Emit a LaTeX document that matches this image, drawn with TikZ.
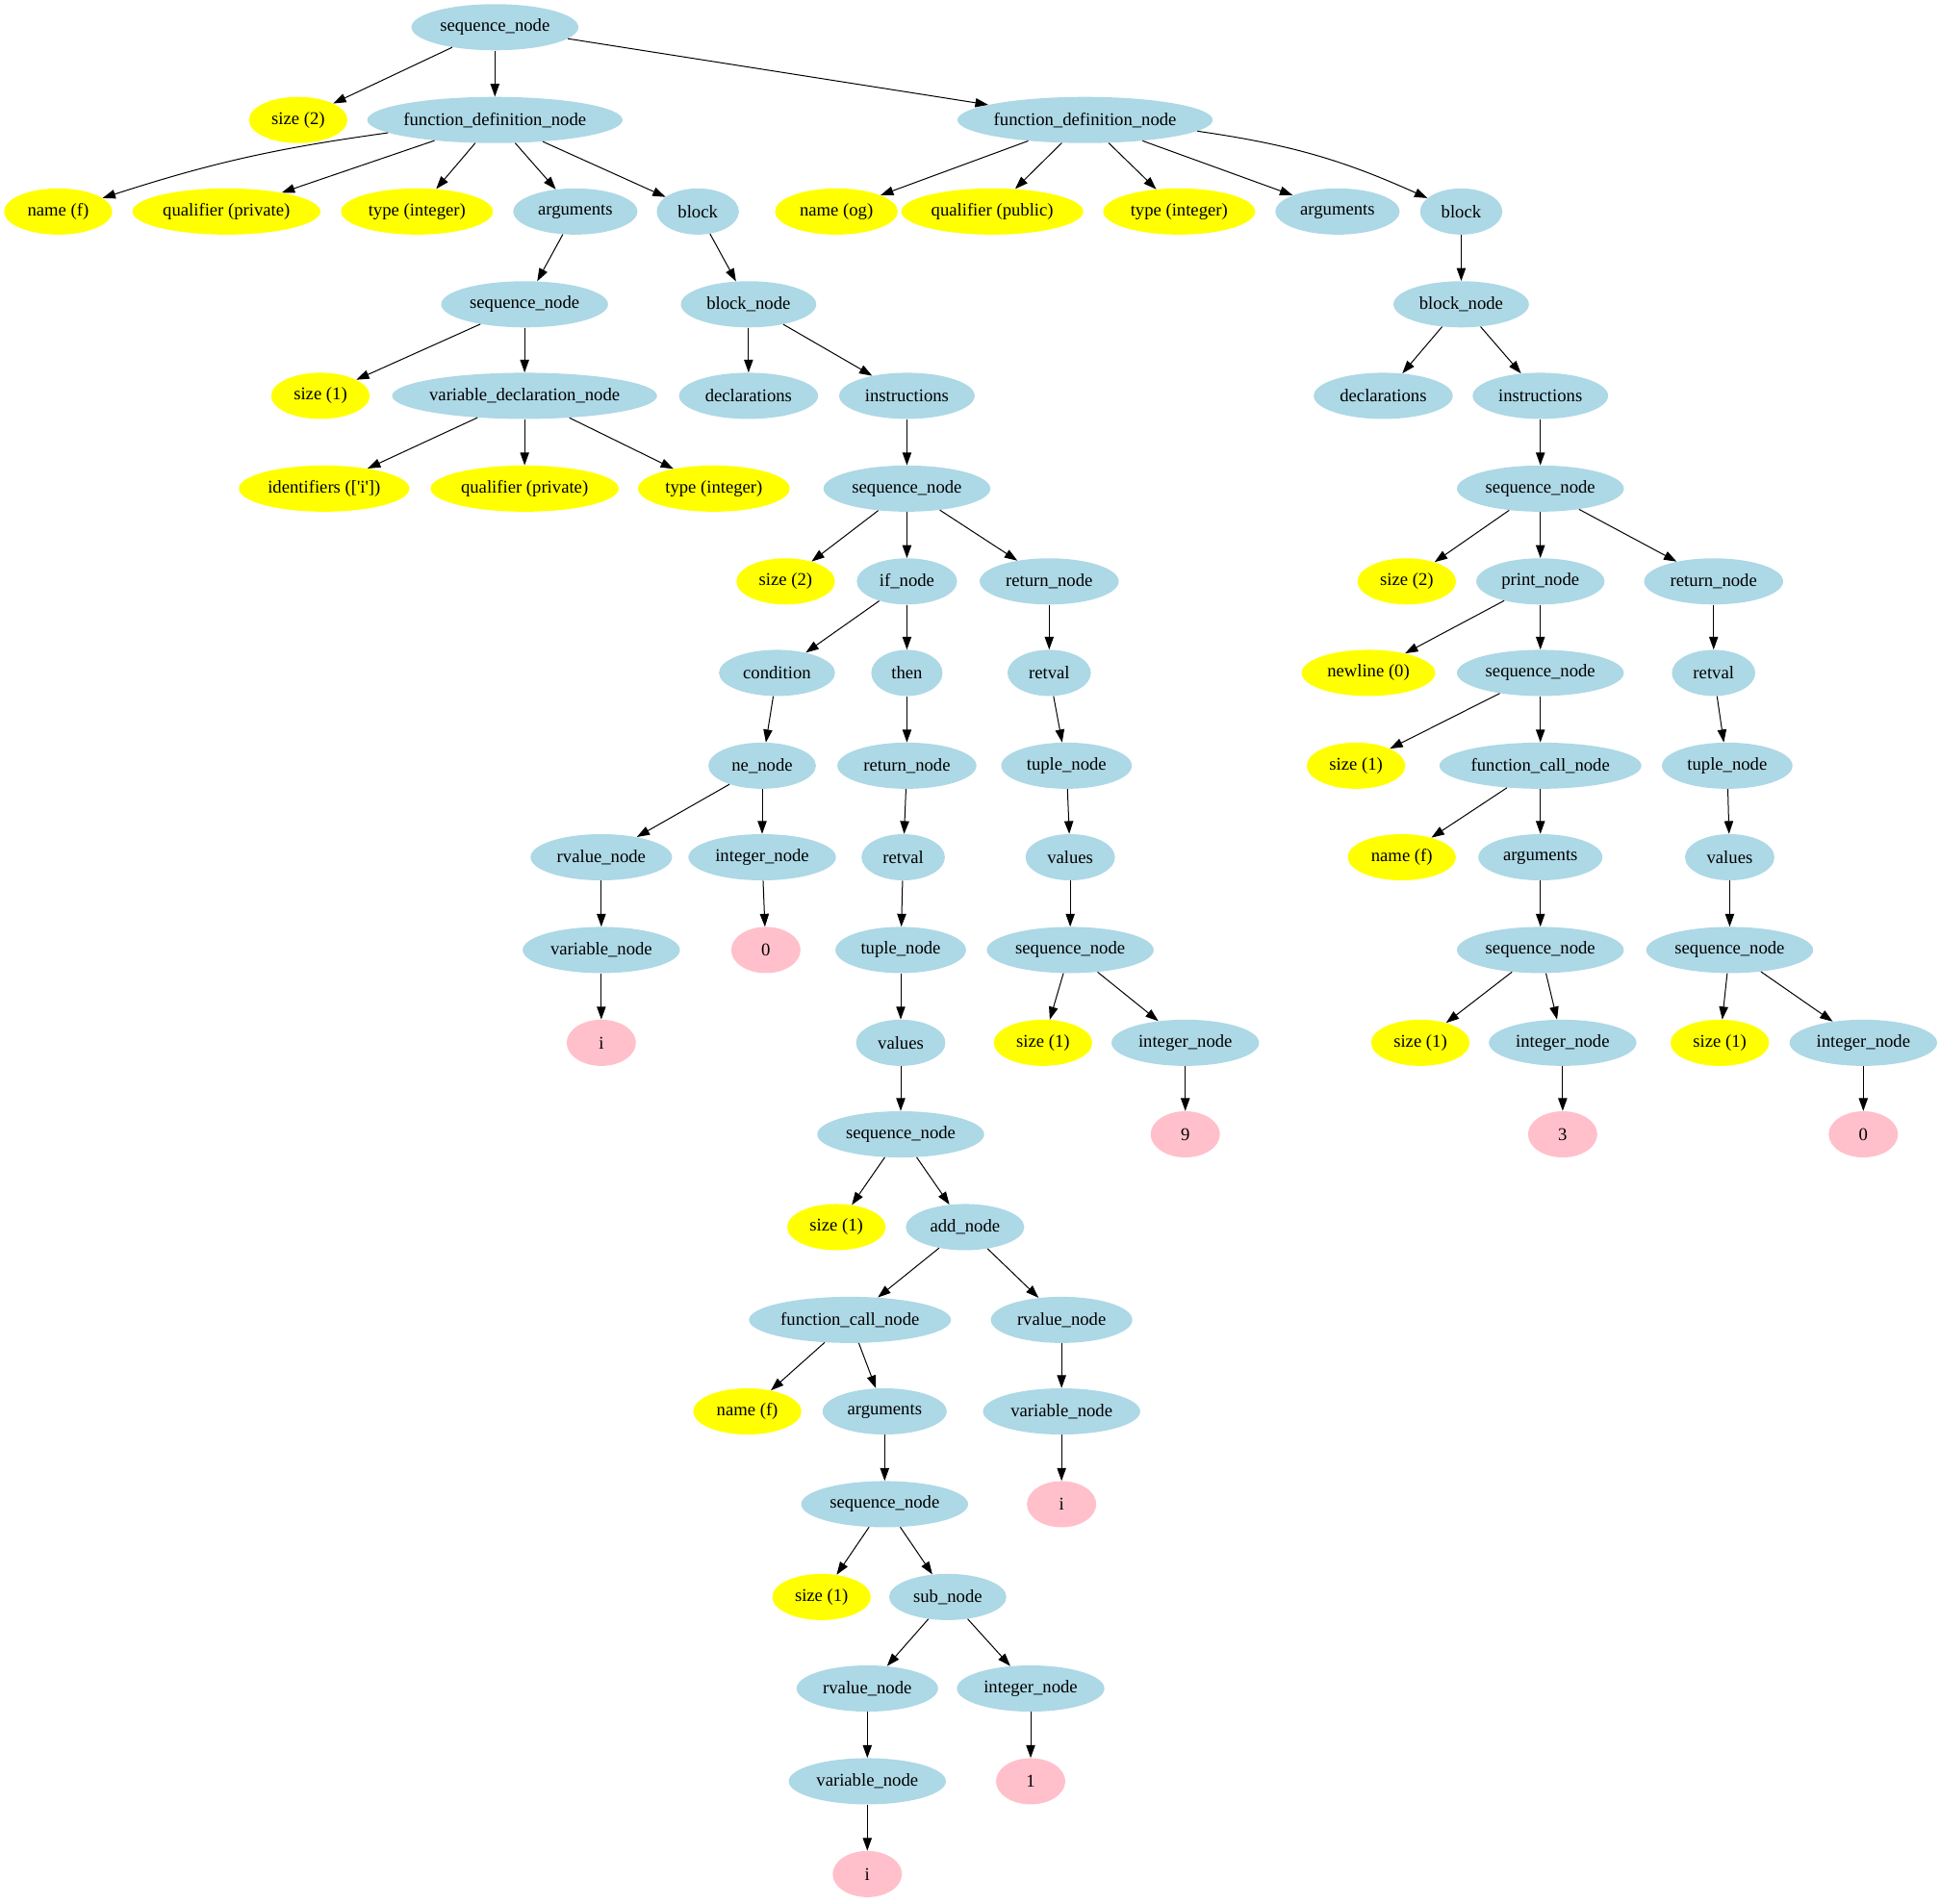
\documentclass[tikz,border=0pt]{standalone}
\usepackage{fontspec}
\setmainfont{Liberation Serif}[Ligatures=TeXOff]
\usetikzlibrary{shapes.geometric,arrows.meta}
\definecolor{gvblue}{HTML}{ADD8E6}
\definecolor{gvyellow}{HTML}{FFFF00}
\definecolor{gvpink}{HTML}{FFC0CB}
% label box narrower than its text, so the ellipse grows more slowly with the text
\newcommand\tx[1]{\makebox[0.858\width][c]{#1}}
\begin{document}
\begin{tikzpicture}[x=0.9643pt,y=-0.9643pt,
  tnode/.style={ellipse,minimum height=36pt,minimum width=54pt,inner xsep=9.3pt,inner ysep=0pt,font=\fontsize{14}{16}\selectfont},
  ast/.style={tnode,fill=gvblue},
  attr/.style={tnode,fill=gvyellow},
  leaf/.style={tnode,fill=gvpink},
  link/.style={-{Triangle[length=10pt,width=7pt]},line width=0.75pt}]
\useasboundingbox (0,0) rectangle (1568,1539);

% row 0-1
\node[ast]  (n0)   at (400,22) {\tx{sequence\_node}};
\node[attr] (s2a)  at (241,97) {\tx{size (2)}};
\node[ast]  (f1)   at (400,97) {\tx{function\_definition\_node}};
\node[ast]  (f2)   at (877,97) {\tx{function\_definition\_node}};
% row 2
\node[attr] (f1name)  at (47,171)  {\tx{name (f)}};
\node[attr] (f1qual)  at (183,171) {\tx{qualifier (private)}};
\node[attr] (f1type)  at (337,171) {\tx{type (integer)}};
\node[ast]  (f1args)  at (465,171) {\tx{arguments}};
\node[ast]  (f1block) at (564,171) {\tx{block}};
\node[attr] (f2name)  at (676,171) {\tx{name (og)}};
\node[attr] (f2qual)  at (802,171) {\tx{qualifier (public)}};
\node[attr] (f2type)  at (953,171) {\tx{type (integer)}};
\node[ast]  (f2args)  at (1081,171) {\tx{arguments}};
\node[ast]  (f2block) at (1181,171) {\tx{block}};
% row 3
\node[ast] (a1seq) at (424,246) {\tx{sequence\_node}};
\node[ast] (b1)    at (605,246) {\tx{block\_node}};
\node[ast] (b2)    at (1181,246) {\tx{block\_node}};
% row 4
\node[attr] (a1size) at (259,320) {\tx{size (1)}};
\node[ast]  (vdecl)  at (424,320) {\tx{variable\_declaration\_node}};
\node[ast]  (b1decl) at (605,320) {\tx{declarations}};
\node[ast]  (b1inst) at (733,320) {\tx{instructions}};
\node[ast]  (b2decl) at (1118,320) {\tx{declarations}};
\node[ast]  (b2inst) at (1245,320) {\tx{instructions}};
% row 5
\node[attr] (vid)   at (262,395) {\tx{identifiers (['i'])}};
\node[attr] (vqual) at (424,395) {\tx{qualifier (private)}};
\node[attr] (vtype) at (577,395) {\tx{type (integer)}};
\node[ast]  (i1seq) at (733,395) {\tx{sequence\_node}};
\node[ast]  (i2seq) at (1245,395) {\tx{sequence\_node}};
% row 6
\node[attr] (i1size) at (635,470) {\tx{size (2)}};
\node[ast]  (ifn)    at (733,470) {\tx{if\_node}};
\node[ast]  (ret1)   at (848,470) {\tx{return\_node}};
\node[attr] (i2size) at (1137,470) {\tx{size (2)}};
\node[ast]  (prn)    at (1245,470) {\tx{print\_node}};
\node[ast]  (ret2)   at (1385,470) {\tx{return\_node}};
% row 7
\node[ast]  (cond)    at (628,544) {\tx{condition}};
\node[ast]  (thn)     at (733,544) {\tx{then}};
\node[ast]  (ret1val) at (848,544) {\tx{retval}};
\node[attr] (nl)      at (1106,544) {\tx{newline (0)}};
\node[ast]  (prseq)   at (1245,544) {\tx{sequence\_node}};
\node[ast]  (ret2val) at (1385,544) {\tx{retval}};
% row 8
\node[ast]  (ne)      at (616,619) {\tx{ne\_node}};
\node[ast]  (thret)   at (733,619) {\tx{return\_node}};
\node[ast]  (ret1tup) at (862,619) {\tx{tuple\_node}};
\node[attr] (prsize)  at (1096,619) {\tx{size (1)}};
\node[ast]  (prcall)  at (1245,619) {\tx{function\_call\_node}};
\node[ast]  (ret2tup) at (1396,619) {\tx{tuple\_node}};
% row 9
\node[ast]  (nerv)     at (486,693) {\tx{rvalue\_node}};
\node[ast]  (neint)    at (616,693) {\tx{integer\_node}};
\node[ast]  (thval)    at (730,693) {\tx{retval}};
\node[ast]  (ret1vals) at (865,693) {\tx{values}};
\node[attr] (prcname)  at (1133,693) {\tx{name (f)}};
\node[ast]  (prcargs)  at (1245,693) {\tx{arguments}};
\node[ast]  (ret2vals) at (1398,693) {\tx{values}};
% row 10
\node[ast]  (nevar)   at (486,768) {\tx{variable\_node}};
\node[leaf] (nezero)  at (619,768) {\tx{0}};
\node[ast]  (thtup)   at (728,768) {\tx{tuple\_node}};
\node[ast]  (ret1seq) at (865,768) {\tx{sequence\_node}};
\node[ast]  (prcseq)  at (1245,768) {\tx{sequence\_node}};
\node[ast]  (ret2seq) at (1398,768) {\tx{sequence\_node}};
% row 11
\node[leaf] (nei)      at (486,843) {\tx{i}};
\node[ast]  (thvals)   at (728,843) {\tx{values}};
\node[attr] (ret1size) at (843,843) {\tx{size (1)}};
\node[ast]  (ret1int)  at (958,843) {\tx{integer\_node}};
\node[attr] (prcsize)  at (1148,843) {\tx{size (1)}};
\node[ast]  (prcint)   at (1263,843) {\tx{integer\_node}};
\node[attr] (ret2size) at (1390,843) {\tx{size (1)}};
\node[ast]  (ret2int)  at (1506,843) {\tx{integer\_node}};
% row 12
\node[ast]  (thseq) at (728,917) {\tx{sequence\_node}};
\node[leaf] (nine)  at (958,917) {\tx{9}};
\node[leaf] (three) at (1263,917) {\tx{3}};
\node[leaf] (zero2) at (1506,917) {\tx{0}};
% rows 13-20
\node[attr] (thsize) at (676,992) {\tx{size (1)}};
\node[ast]  (add)    at (780,992) {\tx{add\_node}};
\node[ast]  (fcall)  at (687,1067) {\tx{function\_call\_node}};
\node[ast]  (addrv)  at (858,1067) {\tx{rvalue\_node}};
\node[attr] (fname)  at (604,1141) {\tx{name (f)}};
\node[ast]  (fargs)  at (715,1141) {\tx{arguments}};
\node[ast]  (addvar) at (858,1141) {\tx{variable\_node}};
\node[ast]  (fseq)   at (715,1216) {\tx{sequence\_node}};
\node[leaf] (addi)   at (858,1216) {\tx{i}};
\node[attr] (fsize)  at (664,1291) {\tx{size (1)}};
\node[ast]  (sub)    at (766,1291) {\tx{sub\_node}};
\node[ast]  (subrv)  at (701,1365) {\tx{rvalue\_node}};
\node[ast]  (subint) at (833,1365) {\tx{integer\_node}};
\node[ast]  (subvar) at (701,1440) {\tx{variable\_node}};
\node[leaf] (one)    at (833,1440) {\tx{1}};
\node[leaf] (subi)   at (701,1515) {\tx{i}};

% connectors
\draw[link] (f1) to[bend right=5] (f1name);
\draw[link] (f2) to[bend left=8] (f2block);
\foreach \a/\b in {n0/s2a,n0/f1,n0/f2,
  f1/f1qual,f1/f1type,f1/f1args,f1/f1block,
  f2/f2name,f2/f2qual,f2/f2type,f2/f2args,
  f1args/a1seq,f1block/b1,f2block/b2,
  a1seq/a1size,a1seq/vdecl,vdecl/vid,vdecl/vqual,vdecl/vtype,
  b1/b1decl,b1/b1inst,b2/b2decl,b2/b2inst,
  b1inst/i1seq,b2inst/i2seq,
  i1seq/i1size,i1seq/ifn,i1seq/ret1,
  i2seq/i2size,i2seq/prn,i2seq/ret2,
  ifn/cond,ifn/thn,ret1/ret1val,prn/nl,prn/prseq,ret2/ret2val,
  cond/ne,thn/thret,ret1val/ret1tup,prseq/prsize,prseq/prcall,ret2val/ret2tup,
  ne/nerv,ne/neint,thret/thval,ret1tup/ret1vals,prcall/prcname,prcall/prcargs,ret2tup/ret2vals,
  nerv/nevar,neint/nezero,thval/thtup,ret1vals/ret1seq,prcargs/prcseq,ret2vals/ret2seq,
  nevar/nei,thtup/thvals,ret1seq/ret1size,ret1seq/ret1int,prcseq/prcsize,prcseq/prcint,
  ret2seq/ret2size,ret2seq/ret2int,
  thvals/thseq,ret1int/nine,prcint/three,ret2int/zero2,
  thseq/thsize,thseq/add,add/fcall,add/addrv,
  fcall/fname,fcall/fargs,addrv/addvar,fargs/fseq,addvar/addi,
  fseq/fsize,fseq/sub,sub/subrv,sub/subint,subrv/subvar,subint/one,subvar/subi}
  \draw[link] (\a) -- (\b);
\end{tikzpicture}
\end{document}
